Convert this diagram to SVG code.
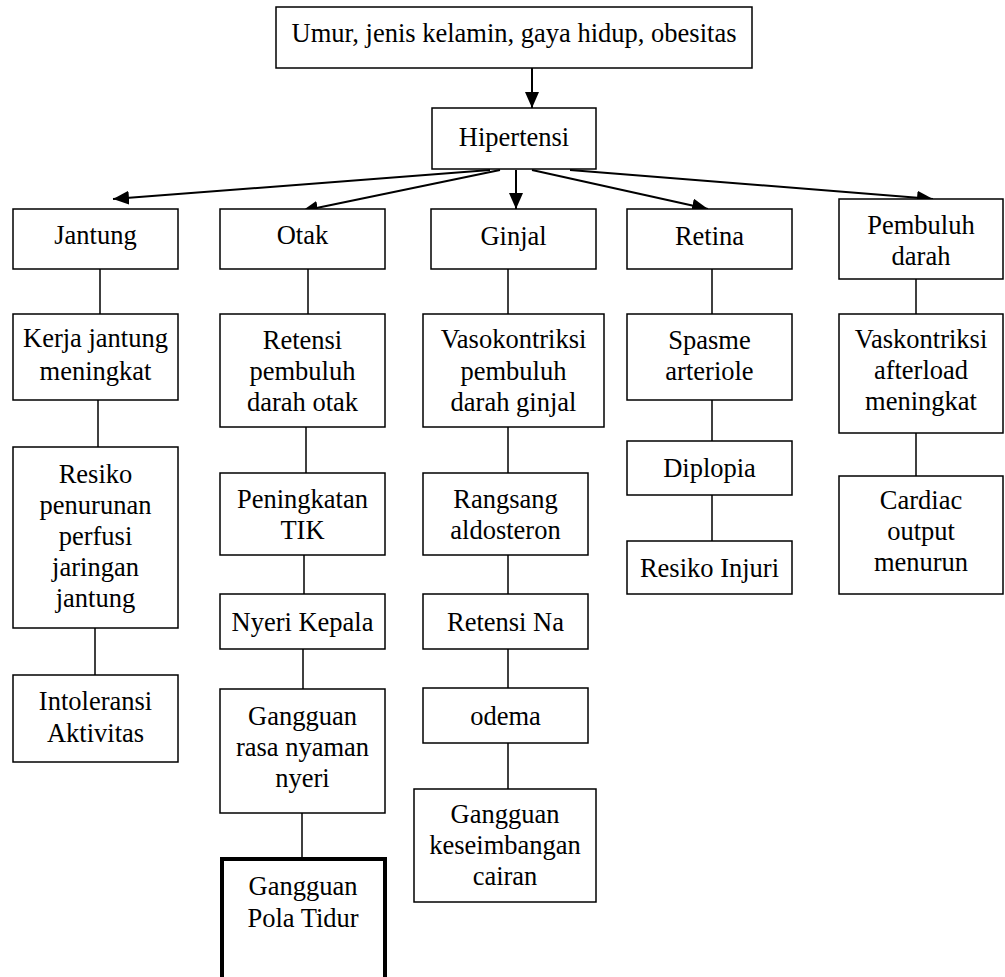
<svg xmlns="http://www.w3.org/2000/svg" width="1005" height="977" viewBox="0 0 1005 977">
<style>
.box{fill:#fff;stroke:#000;stroke-width:1.5}
.thick{fill:#fff;stroke:#000;stroke-width:4}
text{font-family:"Liberation Serif","Times New Roman",serif;font-size:26.5px;fill:#000;text-anchor:middle}
.ln{stroke:#000;stroke-width:1.5;fill:none}
.ar{stroke:#000;stroke-width:2;fill:none;marker-end:url(#ah)}
</style>
<defs>
<marker id="ah" markerUnits="userSpaceOnUse" markerWidth="17" markerHeight="15" refX="16" refY="7" orient="auto">
<path d="M0,0 L16,7 L0,14 Z" fill="#000"/>
</marker>
</defs>
<rect width="1005" height="977" fill="#fff"/>
<g id="connectors">
<line class="ar" x1="532" y1="68" x2="532" y2="108"/>
<line class="ar" x1="490" y1="170" x2="113" y2="199"/>
<line class="ar" x1="500" y1="170" x2="302" y2="211"/>
<line class="ar" x1="516" y1="170" x2="516" y2="209"/>
<line class="ar" x1="532" y1="170" x2="708" y2="209"/>
<line class="ar" x1="570" y1="170" x2="933" y2="199"/>
<line class="ln" x1="100" y1="269" x2="100" y2="314"/>
<line class="ln" x1="98" y1="400" x2="98" y2="447"/>
<line class="ln" x1="95" y1="628" x2="95" y2="675"/>
<line class="ln" x1="308" y1="269" x2="308" y2="314"/>
<line class="ln" x1="306" y1="427" x2="306" y2="473"/>
<line class="ln" x1="304" y1="555" x2="304" y2="594"/>
<line class="ln" x1="303" y1="649" x2="303" y2="689"/>
<line class="ln" x1="302" y1="813" x2="302" y2="857"/>
<line class="ln" x1="508" y1="269" x2="508" y2="314"/>
<line class="ln" x1="508" y1="427" x2="508" y2="473"/>
<line class="ln" x1="508" y1="555" x2="508" y2="594"/>
<line class="ln" x1="508" y1="649" x2="508" y2="688"/>
<line class="ln" x1="508" y1="743" x2="508" y2="789"/>
<line class="ln" x1="712" y1="269" x2="712" y2="314"/>
<line class="ln" x1="712" y1="400" x2="712" y2="441"/>
<line class="ln" x1="712" y1="495" x2="712" y2="541"/>
<line class="ln" x1="916" y1="279" x2="916" y2="314"/>
<line class="ln" x1="916" y1="433" x2="916" y2="476"/>
</g>
<g id="n-faktor"><rect class="box" x="276" y="7" width="476" height="61"/><text x="514" y="42">Umur, jenis kelamin, gaya hidup, obesitas</text></g>
<g id="n-hipertensi"><rect class="box" x="432" y="108" width="164" height="61"/><text x="514" y="146">Hipertensi</text></g>
<g id="n-jantung"><rect class="box" x="13" y="209" width="165" height="60"/><text x="95.5" y="244">Jantung</text></g>
<g id="n-otak"><rect class="box" x="220" y="209" width="165" height="60"/><text x="302.5" y="244">Otak</text></g>
<g id="n-ginjal"><rect class="box" x="431" y="209" width="165" height="60"/><text x="513.5" y="245">Ginjal</text></g>
<g id="n-retina"><rect class="box" x="627" y="209" width="165" height="60"/><text x="709.5" y="245">Retina</text></g>
<g id="n-pembuluh"><rect class="box" x="839" y="199" width="164" height="80"/><text x="921" y="234">Pembuluh</text><text x="921" y="265">darah</text></g>
<g id="n-kerja"><rect class="box" x="13" y="314" width="165" height="86"/><text x="95.5" y="347">Kerja jantung</text><text x="95.5" y="380">meningkat</text></g>
<g id="n-resiko-perfusi"><rect class="box" x="13" y="447" width="165" height="181"/><text x="95.5" y="483">Resiko</text><text x="95.5" y="514">penurunan</text><text x="95.5" y="545">perfusi</text><text x="95.5" y="576">jaringan</text><text x="95.5" y="607">jantung</text></g>
<g id="n-intoleransi"><rect class="box" x="13" y="675" width="165" height="87"/><text x="95.5" y="710">Intoleransi</text><text x="95.5" y="742">Aktivitas</text></g>
<g id="n-retensi-otak"><rect class="box" x="220" y="314" width="165" height="113"/><text x="302.5" y="349">Retensi</text><text x="302.5" y="380">pembuluh</text><text x="302.5" y="411">darah otak</text></g>
<g id="n-tik"><rect class="box" x="220" y="473" width="165" height="82"/><text x="302.5" y="508">Peningkatan</text><text x="302.5" y="539">TIK</text></g>
<g id="n-nyeri"><rect class="box" x="220" y="594" width="165" height="55"/><text x="302.5" y="631">Nyeri Kepala</text></g>
<g id="n-nyaman"><rect class="box" x="220" y="689" width="165" height="124"/><text x="302.5" y="725">Gangguan</text><text x="302.5" y="756">rasa nyaman</text><text x="302.5" y="787">nyeri</text></g>
<g id="n-tidur"><rect class="thick" x="222" y="859" width="163" height="140"/><text x="303" y="895">Gangguan</text><text x="303" y="927">Pola Tidur</text></g>
<g id="n-vaso"><rect class="box" x="423" y="314" width="181" height="113"/><text x="513.5" y="348">Vasokontriksi</text><text x="513.5" y="380">pembuluh</text><text x="513.5" y="411">darah ginjal</text></g>
<g id="n-aldosteron"><rect class="box" x="423" y="473" width="165" height="82"/><text x="505.5" y="508">Rangsang</text><text x="505.5" y="539">aldosteron</text></g>
<g id="n-na"><rect class="box" x="423" y="594" width="165" height="55"/><text x="505.5" y="631">Retensi Na</text></g>
<g id="n-odema"><rect class="box" x="423" y="688" width="165" height="55"/><text x="505.5" y="725">odema</text></g>
<g id="n-cairan"><rect class="box" x="414" y="789" width="182" height="113"/><text x="505" y="823">Gangguan</text><text x="505" y="854">keseimbangan</text><text x="505" y="885">cairan</text></g>
<g id="n-spasme"><rect class="box" x="627" y="314" width="165" height="86"/><text x="709.5" y="349">Spasme</text><text x="709.5" y="380">arteriole</text></g>
<g id="n-diplopia"><rect class="box" x="627" y="441" width="165" height="54"/><text x="709.5" y="477">Diplopia</text></g>
<g id="n-injuri"><rect class="box" x="627" y="541" width="165" height="53"/><text x="709.5" y="577">Resiko Injuri</text></g>
<g id="n-vask"><rect class="box" x="839" y="314" width="164" height="119"/><text x="921" y="348">Vaskontriksi</text><text x="921" y="379">afterload</text><text x="921" y="410">meningkat</text></g>
<g id="n-cardiac"><rect class="box" x="839" y="476" width="164" height="118"/><text x="921" y="509">Cardiac</text><text x="921" y="540">output</text><text x="921" y="571">menurun</text></g>
</svg>
